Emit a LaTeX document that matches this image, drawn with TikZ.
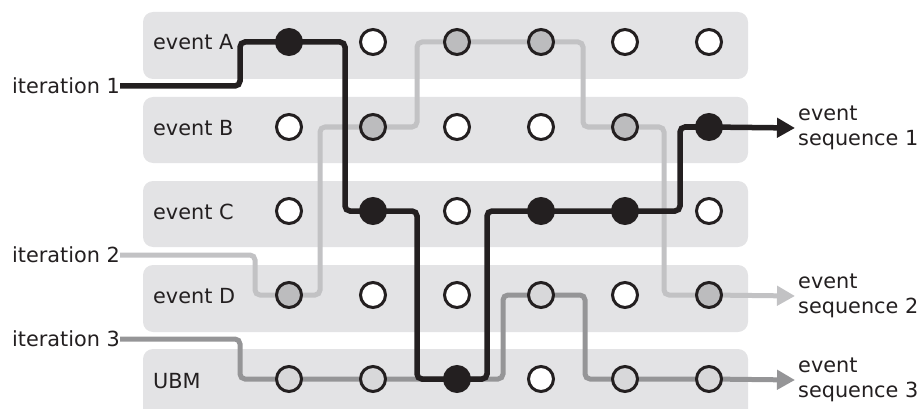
\documentclass[tikz,border=0pt]{standalone}
\usepackage{fontspec}
\setmainfont{DejaVu Sans}
\usetikzlibrary{arrows.meta}
\definecolor{band}{HTML}{E3E3E5}
\definecolor{ink}{HTML}{231F20}
\definecolor{gA}{HTML}{C2C2C4}
\definecolor{gAf}{HTML}{BCBCBE}
\definecolor{gB}{HTML}{959597}
\definecolor{gBf}{HTML}{D8D8DA}
\tikzset{
  bandbox/.style={fill=band, draw=none, rounded corners=10pt},
  lbl/.style={font=\fontsize{20.8}{25}\selectfont, text=ink, inner sep=0pt},
  evt/.style={circle, draw=ink, line width=3pt, minimum size=25pt, inner sep=0pt, fill=white},
  dotone/.style={evt, fill=ink},
  dottwo/.style={evt, fill=gAf},
  dotthree/.style={evt, fill=gBf},
  pathone/.style={draw=ink, line width=5.5pt, rounded corners=5pt},
  pathtwo/.style={draw=gA, line width=5pt, rounded corners=5pt},
  paththree/.style={draw=gB, line width=5pt, rounded corners=5pt},
  tip/.style={-{Triangle[length=18pt,width=19pt]}},
}
\begin{document}
\begin{tikzpicture}[x=1pt,y=-1pt]
\useasboundingbox (0,0) rectangle (920,409);
\begin{scope}
\clip (0,0) rectangle (920,409);
% bands
\fill[bandbox] (143,12) rectangle (748,79);
\fill[bandbox] (143,97) rectangle (748,163);
\fill[bandbox] (143,181) rectangle (748,247);
\fill[bandbox] (143,265) rectangle (748,332);
\fill[bandbox] (143,349) rectangle (748,425);
\end{scope}
% row labels
\node[lbl, anchor=west] (la) at (153,42) {event A};
\node[lbl, anchor=west] (lb) at (153,128) {event B};
\node[lbl, anchor=west] (lc) at (153,212) {event C};
\node[lbl, anchor=west] (ld) at (153,296) {event D};
\node[lbl, anchor=west] (lu) at (153,381) {UBM};
% iteration labels
\node[lbl, anchor=east] (i1) at (120,86) {iteration 1};
\node[lbl, anchor=east] (i2) at (120,255) {iteration 2};
\node[lbl, anchor=east] (i3) at (120,339) {iteration 3};
% output labels
\node[lbl, anchor=west, align=left] (s1) at (798,128) {event\\sequence 1};
\node[lbl, anchor=west, align=left] (s2) at (798,296) {event\\sequence 2};
\node[lbl, anchor=west, align=left] (s3) at (798,380) {event\\sequence 3};
% grid coordinates
\foreach \r/\y in {A/42,B/127,C/211,D/295,U/379}{
  \foreach \c/\x in {1/289,2/373,3/457,4/541,5/625,6/709}{
    \coordinate (\r\c) at (\x,\y);
  }
}
% iteration 3
\draw[paththree, tip] (i3.east) -- (240,339) -- (240,379) -- (U1) -- (U2) -- (U3)
  -- (503,379) -- (503,295) -- (D4) -- (585,295) -- (585,379) -- (U5) -- (U6) -- ([xshift=-3pt]s3.west);
% iteration 2
\draw[pathtwo, tip] (i2.east) -- (255,255) -- (255,295) -- (D1) -- (320,295) -- (320,127)
  -- (B2) -- (417,127) -- (417,42) -- (A3) -- (A4) -- (583,42) -- (583,127) -- (B5)
  -- (664,127) -- (664,295) -- (D6) -- ([xshift=-3pt]s2.west);
% iteration 1
\draw[pathone, tip] (i1.east) -- (240,86) -- (240,42) -- (A1) -- (345,42) -- (345,211)
  -- (C2) -- (417,211) -- (417,379) -- (U3) -- (487,379) -- (487,211) -- (C4) -- (C5)
  -- (680,211) -- (680,127) -- (B6) -- ([xshift=-3pt]s1.west);
% circles
\foreach \n in {A2,A5,A6,B1,B3,B4,C1,C3,C6,D2,D3,D5,U4}{
  \node[evt] (n\n) at (\n) {};
}
\foreach \n in {A1,C2,U3,C4,C5,B6}{
  \node[dotone] (n\n) at (\n) {};
}
\foreach \n in {D1,B2,A3,A4,B5,D6}{
  \node[dottwo] (n\n) at (\n) {};
}
\foreach \n in {U1,U2,D4,U5,U6}{
  \node[dotthree] (n\n) at (\n) {};
}
\end{tikzpicture}
\end{document}
